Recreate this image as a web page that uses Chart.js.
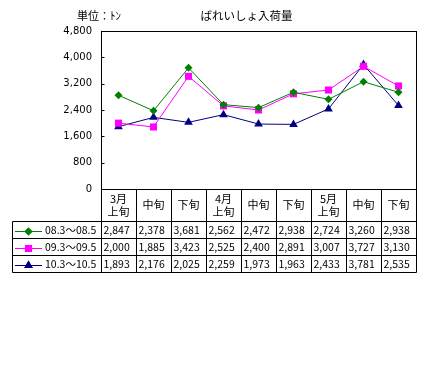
<!DOCTYPE html>
<html>
<head>
<meta charset="utf-8">
<script src="https://cdn.jsdelivr.net/npm/chart.js@4/dist/chart.umd.min.js"></script>
<style>
  html, body { margin: 0; padding: 0; background: #ffffff; }
  #wrap { width: 429px; height: 372px; }
</style>
</head>
<body>
<div id="wrap"><canvas id="c" width="429" height="372"></canvas></div>
<script>
// ---- data ----
const categories = [['3月', '上旬'], '中旬', '下旬', ['4月', '上旬'], '中旬', '下旬', ['5月', '上旬'], '中旬', '下旬'];
const seriesNames = ['08.3～08.5', '09.3～09.5', '10.3～10.5'];
const series08 = [2847, 2378, 3681, 2562, 2472, 2938, 2724, 3260, 2938];
const series09 = [2000, 1885, 3423, 2525, 2400, 2891, 3007, 3727, 3130];
const series10 = [1893, 2176, 2025, 2259, 1973, 1963, 2433, 3781, 2535];
const yTickValues = [0, 800, 1600, 2400, 3200, 4000, 4800];
const chartTitle = 'ばれいしょ入荷量';
const unitLabel = '単位：ﾄﾝ';

const seriesList = [series08, series09, series10];
const colors = ['#008000', '#ff00ff', '#000080'];
const pointStyles = ['rectRot', 'rect', 'triangle'];
const pointRadii = [4, 5, 5];

const JP = '"Noto Sans CJK JP", "Noto Sans", sans-serif';
const fmt = v => v.toLocaleString('en-US');

const tablePlugin = {
  id: 'tablePlugin',
  afterDraw(chart) {
    const ctx = chart.ctx;
    const a = chart.chartArea;
    const n = categories.length;
    const colW = (a.right - a.left) / n;
    const tableLeft = 12.5;
    const headerBottom = 221.5;
    const rowH = 17;
    const rowsY = [headerBottom, headerBottom + rowH, headerBottom + 2 * rowH, headerBottom + 3 * rowH];
    const tableBottom = rowsY[3];
    ctx.save();
    ctx.strokeStyle = '#000';
    ctx.lineWidth = 1;
    // plot border
    const L = Math.round(a.left) + 0.5, R = Math.round(a.right) + 0.5;
    const T = Math.round(a.top) + 0.5, B = Math.round(a.bottom) + 0.5;
    ctx.strokeRect(L, T, R - L, B - T);
    // y tick marks (inside)
    const ys = chart.scales.y;
    yTickValues.forEach(v => {
      const y = Math.round(ys.getPixelForValue(v)) + 0.5;
      ctx.beginPath(); ctx.moveTo(L, y); ctx.lineTo(L + 3, y); ctx.stroke();
    });
    // table grid
    ctx.beginPath();
    for (let i = 0; i <= n; i++) {
      const x = Math.round(a.left + i * colW) + 0.5;
      ctx.moveTo(x, B); ctx.lineTo(x, tableBottom);
    }
    ctx.moveTo(tableLeft, rowsY[0]); ctx.lineTo(tableLeft, tableBottom);
    rowsY.forEach(y => { ctx.moveTo(tableLeft, y); ctx.lineTo(R, y); });
    ctx.stroke();

    // header labels
    ctx.fillStyle = '#000';
    ctx.font = '11px ' + JP;
    ctx.textAlign = 'center';
    ctx.textBaseline = 'middle';
    const xsc = chart.scales.x;
    categories.forEach((c, i) => {
      const cx = xsc.getPixelForValue(i);
      if (Array.isArray(c)) {
        ctx.fillText(c[0], cx, 198.5);
        ctx.fillText(c[1], cx, 211.5);
      } else {
        ctx.fillText(c, cx, 205);
      }
    });
    // data rows
    ctx.textAlign = 'left';
    ctx.font = '10.5px ' + JP;
    seriesList.forEach((s, r) => {
      const cy = (rowsY[r] + rowsY[r + 1]) / 2 + 0.5;
      s.forEach((v, i) => {
        const x0 = a.left + i * colW;
        ctx.fillText(fmt(v), x0 + 2.5, cy);
      });
      // legend key
      ctx.strokeStyle = colors[r];
      ctx.lineWidth = 1;
      const ly = Math.round(cy) + 0.5;
      ctx.beginPath(); ctx.moveTo(15, ly); ctx.lineTo(42, ly); ctx.stroke();
      ctx.fillStyle = colors[r];
      drawMarker(ctx, pointStyles[r], 28.5, ly, pointRadii[r]);
      ctx.fillStyle = '#000';
      ctx.fillText(seriesNames[r], 45, cy);
    });

    // title and unit
    ctx.textAlign = 'center';
    ctx.font = '11.5px ' + JP;
    ctx.fillText(chartTitle, 246.5, 15.5);
    ctx.textAlign = 'left';
    ctx.font = '11px ' + JP;
    ctx.fillText(unitLabel, 77, 15.5);
    ctx.restore();
  }
};

function drawMarker(ctx, style, x, y, r) {
  Chart.helpers.drawPoint(ctx, { pointStyle: style, radius: r, borderWidth: 0, rotation: 0 }, x, y);
  ctx.fill();
}

const datasets = seriesList.map((s, i) => ({
  label: seriesNames[i],
  data: s,
  borderColor: colors[i],
  backgroundColor: colors[i],
  borderWidth: 1,
  pointStyle: pointStyles[i],
  pointRadius: pointRadii[i],
  pointBorderWidth: 0,
  pointBackgroundColor: colors[i],
  tension: 0,
  clip: false
}));

new Chart(document.getElementById('c'), {
  type: 'line',
  data: { labels: categories, datasets },
  options: {
    responsive: false,
    animation: false,
    devicePixelRatio: 1,
    layout: { padding: { left: 0, top: 31, right: 13, bottom: 183 } },
    plugins: { legend: { display: false }, title: { display: false }, tooltip: { enabled: false } },
    scales: {
      x: { type: 'category', display: false, offset: true },
      y: {
        min: 0, max: 4800,
        afterFit(scale) { scale.width = 101; },
        afterBuildTicks(scale) { scale.ticks = yTickValues.map(v => ({ value: v })); },
        grid: { display: false, drawTicks: false },
        border: { display: false },
        ticks: {
          padding: 9,
          color: '#000',
          font: { family: '"DejaVu Sans", sans-serif', size: 10 },
          callback: v => fmt(v)
        }
      }
    }
  },
  plugins: [tablePlugin]
});
</script>
</body>
</html>
